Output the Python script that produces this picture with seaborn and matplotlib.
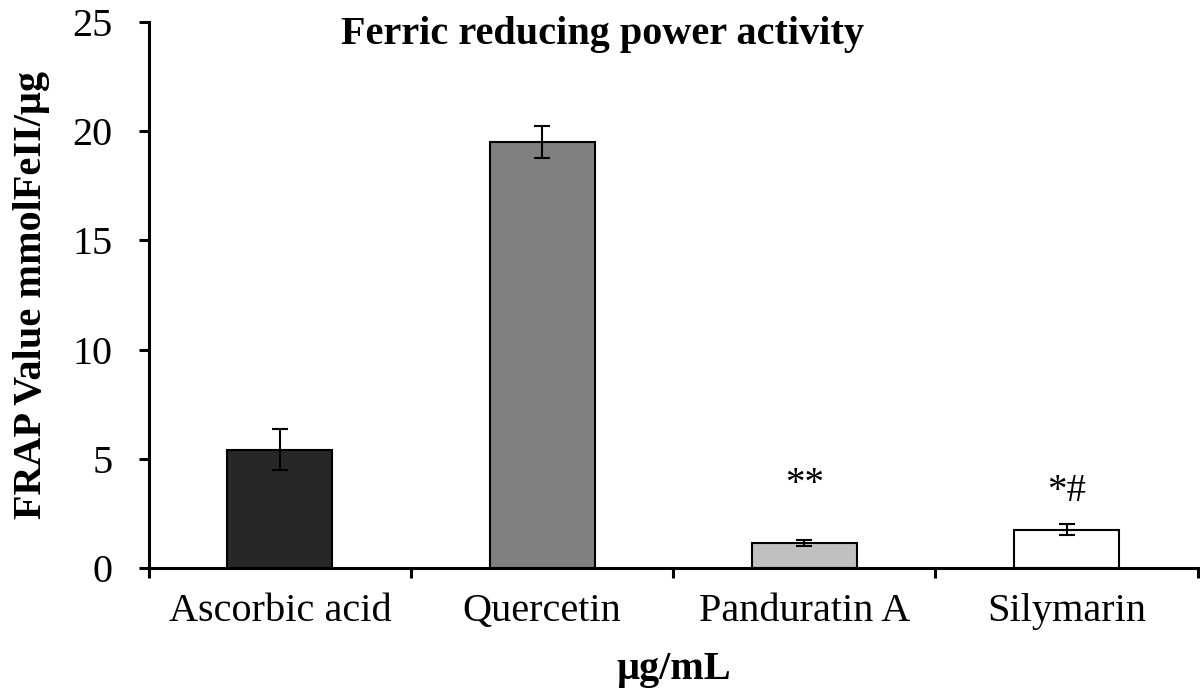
import matplotlib
matplotlib.use("Agg")
import matplotlib.pyplot as plt
import seaborn as sns
import pandas as pd
import numpy as np

categories = ["Ascorbic acid", "Quercetin", "Panduratin A", "Silymarin"]
values = [5.41, 19.5, 1.13, 1.74]
errors = [0.93, 0.73, 0.14, 0.25]
bar_colors = ["#272727", "#808080", "#c0c0c0", "#ffffff"]
annotations = ["", "", "**", "*#"]
annot_y = [0, 0, 3.8, 3.5]
y_ticks = [0, 5, 10, 15, 20, 25]

sns.set_theme(style="white")
plt.rcParams["font.family"] = ["Liberation Serif", "DejaVu Serif"]
plt.rcParams["text.color"] = "black"
plt.rcParams["axes.labelcolor"] = "black"
plt.rcParams["xtick.color"] = "black"
plt.rcParams["ytick.color"] = "black"

df = pd.DataFrame({"cat": categories, "val": values})

fig = plt.figure(figsize=(12, 6.95), dpi=100)
ax = fig.add_axes([0.124, 0.183, 0.874, 0.785])

sns.barplot(data=df, x="cat", y="val", hue="cat", palette=bar_colors,
            width=0.4, edgecolor="black", linewidth=1.5, legend=False,
            saturation=1, ax=ax)
ax.errorbar(np.arange(len(categories)), values, yerr=errors, fmt="none",
            ecolor="black", elinewidth=1.5, capsize=6, capthick=1.5)

for i, t in enumerate(annotations):
    if t:
        ax.text(i, annot_y[i], t, ha="center", va="center", fontsize=28)

ax.set_xlim(-0.5, len(categories) - 0.5)
ax.set_ylim(0, 25)
ax.set_yticks(y_ticks)
ax.tick_params(axis="y", labelsize=29, direction="out", length=7, width=2.2, pad=19, left=True)
ax.set_xticks(range(len(categories)))
ax.set_xticklabels(categories)
ax.tick_params(axis="x", which="major", labelsize=29, length=0, pad=18)
ax.set_xticks(np.arange(-0.5, len(categories)), minor=True)
ax.tick_params(axis="x", which="minor", direction="out", length=7, width=2.2, bottom=True)

for s in ["top", "right"]:
    ax.spines[s].set_visible(False)
for s in ["left", "bottom"]:
    ax.spines[s].set_linewidth(2.2)
    ax.spines[s].set_color("black")

ax.set_xlabel("µg/mL", fontsize=29, fontweight="bold", labelpad=15)
ax.set_ylabel("FRAP Value mmolFeII/µg", fontsize=29, fontweight="bold", labelpad=16)
ax.text(0.433, 0.96, "Ferric reducing power activity", transform=ax.transAxes,
        ha="center", va="baseline", fontsize=29, fontweight="bold")

fig.savefig("out.png", dpi=100)
